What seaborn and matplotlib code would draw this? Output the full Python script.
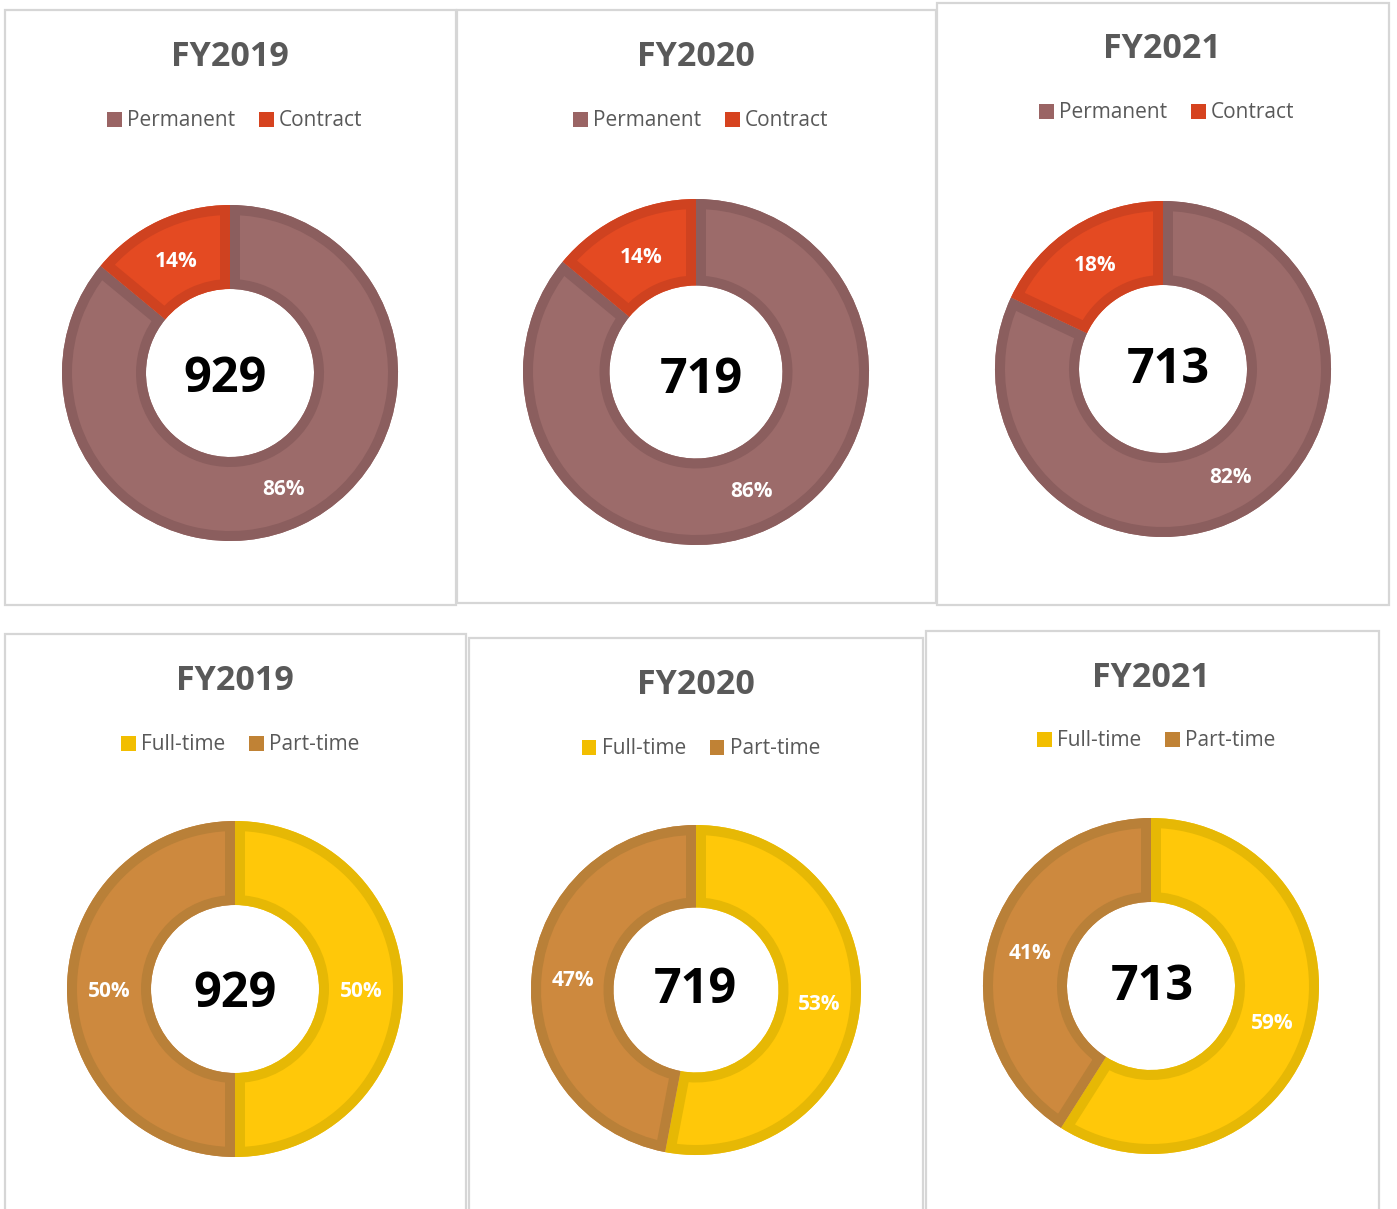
import matplotlib
matplotlib.use("Agg")
import matplotlib.pyplot as plt
from matplotlib.patches import Rectangle, Patch, Wedge
import seaborn as sns

# ---- data -------------------------------------------------------------
years = ["FY2019", "FY2020", "FY2021"]
headcount = [929, 719, 713]

contract_labels = ["Permanent", "Contract"]
permanent_pct = [86, 86, 82]
contract_pct = [14, 14, 18]

time_labels = ["Full-time", "Part-time"]
fulltime_pct = [50, 53, 59]
parttime_pct = [50, 47, 41]

# ---- styling ------------------------------------------------------------
sns.set_theme(style="white")
plt.rcParams["font.family"] = ["Open Sans", "DejaVu Sans"]

contract_fill = sns.color_palette(["#9C6B6A", "#E44A22"])
contract_edge = sns.color_palette(["#8B5E5E", "#CF4220"])
contract_key = sns.color_palette(["#9A6464", "#D6431F"])
time_fill = sns.color_palette(["#FFC809", "#CD893E"])
time_edge = sns.color_palette(["#E6B805", "#B98038"])
time_key = sns.color_palette(["#F2BE00", "#C08235"])

TEXT_GREY = "#595959"
BORDER = "#D6D6D6"

W, H = 1397, 1209
fig = plt.figure(figsize=(W / 100, H / 100), dpi=100)
fig.patch.set_facecolor("white")


def fx(x):
    return x / W


def fy(y):
    return 1 - y / H


CAP = 0.714  # cap height of Open Sans as a fraction of the em


def pt2px(pt):
    return pt * 100 / 72


# panel layout in pixels: frame box, donut centre, radius, title, legend, centre label
panels = [
    dict(box=(5, 10, 456, 605), c=(230, 373), r=168, title=(230, 54), leg=(235, 121), num=(225, 375)),
    dict(box=(457, 10, 936, 603), c=(696, 372), r=173, title=(696, 54), leg=(701, 121), num=(701, 376)),
    dict(box=(937, 3, 1389, 605), c=(1163, 369), r=168, title=(1162, 46), leg=(1167, 113), num=(1168, 366)),
    dict(box=(5, 634, 466, 1230), c=(235, 989), r=168, title=(235, 678), leg=(240, 745), num=(235, 990)),
    dict(box=(469, 638, 923, 1230), c=(696, 990), r=165, title=(696, 682), leg=(701, 749), num=(695, 986)),
    dict(box=(926, 631, 1379, 1230), c=(1151, 986), r=168, title=(1151, 675), leg=(1156, 741), num=(1152, 983)),
]

series = []
for i in range(3):
    series.append(([permanent_pct[i], contract_pct[i]], contract_labels,
                   contract_fill, contract_edge, contract_key, years[i], headcount[i]))
for i in range(3):
    series.append(([fulltime_pct[i], parttime_pct[i]], time_labels,
                   time_fill, time_edge, time_key, years[i], headcount[i]))

EDGE_PX = 10  # visible border thickness inside each wedge
S = 190       # half-size of each donut axes, in pixels
TITLE_PT = 24.5
NUM_PT = 35

for spec, (vals, labels, fills, edges, keys, title, total) in zip(panels, series):
    x0, y0, x1, y1 = spec["box"]
    frame = Rectangle((fx(x0), fy(y1)), fx(x1) - fx(x0), fy(y0) - fy(y1),
                      transform=fig.transFigure, facecolor="none",
                      edgecolor=BORDER, linewidth=1.6, zorder=0)
    fig.add_artist(frame)

    cx, cy = spec["c"]
    ax = fig.add_axes([fx(cx - S), fy(cy + S), 2 * S / W, 2 * S / H])
    R = spec["r"]
    ring = R / 2
    wedges, _, autotexts = ax.pie(
        vals, radius=R, startangle=90, counterclock=False,
        colors=fills, autopct=lambda p: f"{p:.0f}%",
        pctdistance=(R - ring / 2) / R,
        wedgeprops=dict(width=ring, linewidth=0),
        textprops=dict(color="white", fontsize=15, fontweight="bold"),
    )
    # border band inside each wedge: a stroke-only copy of the wedge with a
    # double-width line, clipped to the wedge outline
    for w, ec in zip(wedges, edges):
        w.set_clip_on(True)
        outline = Wedge(w.center, w.r, w.theta1, w.theta2, width=w.width,
                        facecolor="none", edgecolor=ec,
                        linewidth=2 * EDGE_PX * 72 / 100,
                        zorder=w.get_zorder() + 0.1)
        ax.add_patch(outline)
        outline.set_clip_path(w)
    for t in autotexts:
        t.set_va("center_baseline")
        t.set_zorder(5)
    ax.set_xlim(-S, S)
    ax.set_ylim(-S, S)
    ax.set_axis_off()

    nx, ny = spec["num"]
    fig.text(fx(nx), fy(ny + CAP * pt2px(NUM_PT) / 2), f"{total}", ha="center",
             va="baseline", fontsize=NUM_PT, fontweight="bold", color="black")

    tx, ty = spec["title"]
    fig.text(fx(tx), fy(ty + CAP * pt2px(TITLE_PT) / 2), title, ha="center",
             va="baseline", fontsize=TITLE_PT, fontweight="bold", color=TEXT_GREY)

    lx, ly = spec["leg"]
    handles = [Patch(facecolor=k, edgecolor="none") for k in keys]
    fig.legend(handles, labels, loc="center", bbox_to_anchor=(fx(lx), fy(ly)),
               ncol=2, frameon=False, fontsize=15, labelcolor=TEXT_GREY,
               handlelength=0.7, handleheight=0.7, handletextpad=0.25,
               columnspacing=1.15, borderpad=0, borderaxespad=0)

fig.savefig("out.png", dpi=100, facecolor="white")
